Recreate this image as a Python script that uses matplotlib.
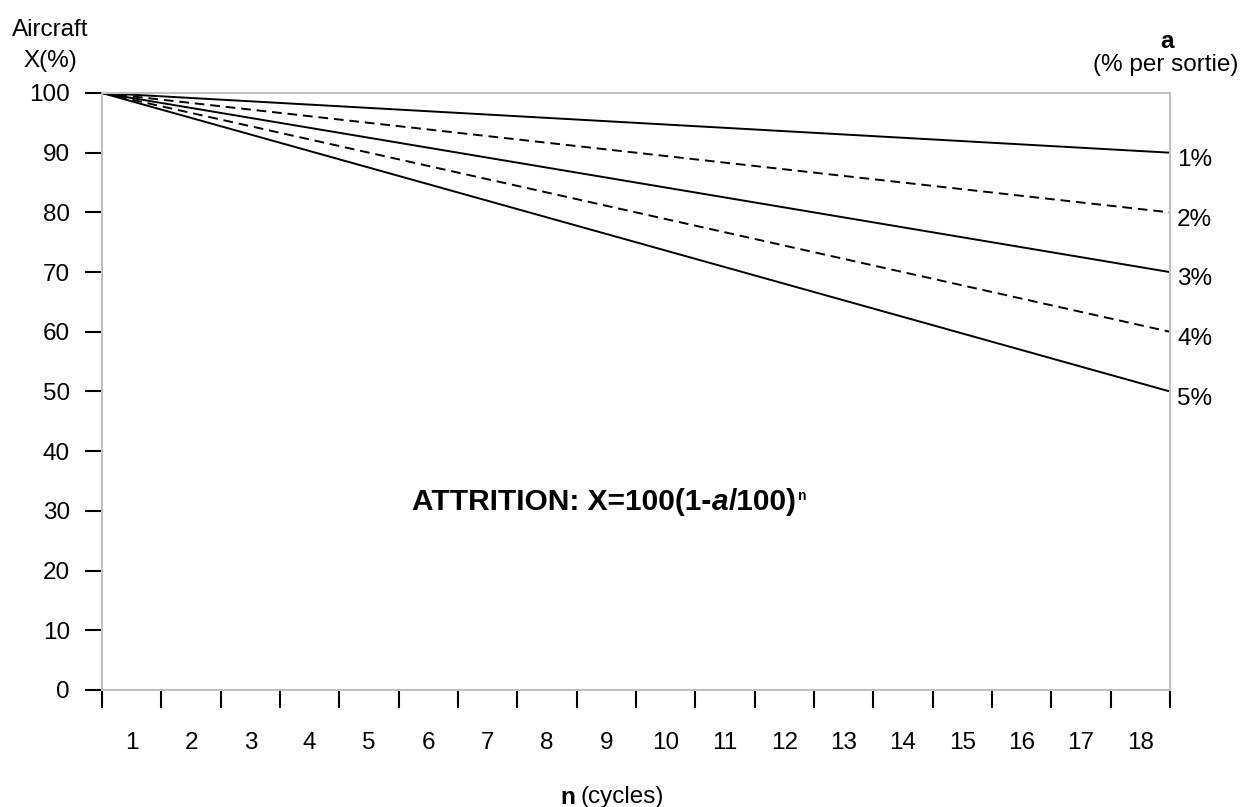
import matplotlib
matplotlib.use("Agg")
import matplotlib.pyplot as plt

# Data
cycles_start = 0
cycles_end = 18
start_value = 100
rate_labels = ["1%", "2%", "3%", "4%", "5%"]
end_values = [90, 80, 70, 60, 50]
line_styles = ["-", "--", "-", "--", "-"]
x_tick_labels = [str(i) for i in range(1, 19)]
y_ticks = [0, 10, 20, 30, 40, 50, 60, 70, 80, 90, 100]

plt.rcParams['font.family'] = ['Liberation Sans', 'DejaVu Sans']
FS = 17.5

fig = plt.figure(figsize=(12.42, 8.07), dpi=100)
ax = fig.add_axes([102/1242, 1 - 690/807, (1170-102)/1242, (690-93)/807])

for ev, ls in zip(end_values, line_styles):
    ax.plot([cycles_start, cycles_end], [start_value, ev], color='black',
            linestyle=ls, linewidth=1.4, dashes=(5, 3) if ls == '--' else (None, None),
            solid_capstyle='butt', clip_on=False)

ax.set_xlim(0, 18)
ax.set_ylim(0, 100)
for s in ax.spines.values():
    s.set_color('#c0c0c0')
    s.set_linewidth(1.5)

ax.set_xticks(range(0, 19))
ax.set_xticklabels([])
ax.set_xticks([i + 0.5 for i in range(18)], minor=True)
ax.set_xticklabels(x_tick_labels, minor=True, fontsize=FS)
ax.tick_params(axis='x', which='major', direction='out', length=13, width=1.5, color='black')
ax.tick_params(axis='x', which='minor', length=0, pad=30)
ax.set_yticks(y_ticks)
ax.set_yticklabels([str(v) for v in y_ticks], fontsize=FS)
ax.tick_params(axis='y', direction='out', length=12.5, width=1.5, color='black', pad=10.5)

# right labels
for ev, lab in zip(end_values, rate_labels):
    ax.text(18.12, ev - 1.2, lab, fontsize=FS, ha='left', va='center', clip_on=False)

fig.text(1167/1242, 1 - 42/807, "a", fontsize=FS, fontweight='bold', ha='center', va='center')
fig.text(1166/1242, 1 - 65/807, "(% per sortie)", fontsize=FS, ha='center', va='center')
fig.text(50/1242, 1 - 30/807, "Aircraft", fontsize=FS, ha='center', va='center')
fig.text(50/1242, 1 - 61/807, "X(%)", fontsize=FS, ha='center', va='center')

# x axis label
fig.text(575/1242, 1 - 797/807, "n", fontsize=FS, fontweight='bold', ha='right', va='center')
fig.text(581/1242, 1 - 797/807, "(cycles)", fontsize=FS, ha='left', va='center')

# formula
f1 = ax.text(5.23, 31.5, "ATTRITION: X=100(1-", fontsize=21.5, fontweight='bold', ha='left', va='center')
f2 = ax.annotate("a", xy=(1, 0), xycoords=f1, fontsize=21.5, fontweight='bold', fontstyle='italic',
                 ha='left', va='bottom')
f3 = ax.annotate("/100)", xy=(1, 0), xycoords=f2, fontsize=21.5, fontweight='bold', ha='left', va='bottom')
ax.annotate("n", xy=(1, 1), xycoords=f3, xytext=(1, -1), textcoords='offset points',
            fontsize=10, fontweight='bold', ha='left', va='top')

fig.savefig("out.png", dpi=100)
